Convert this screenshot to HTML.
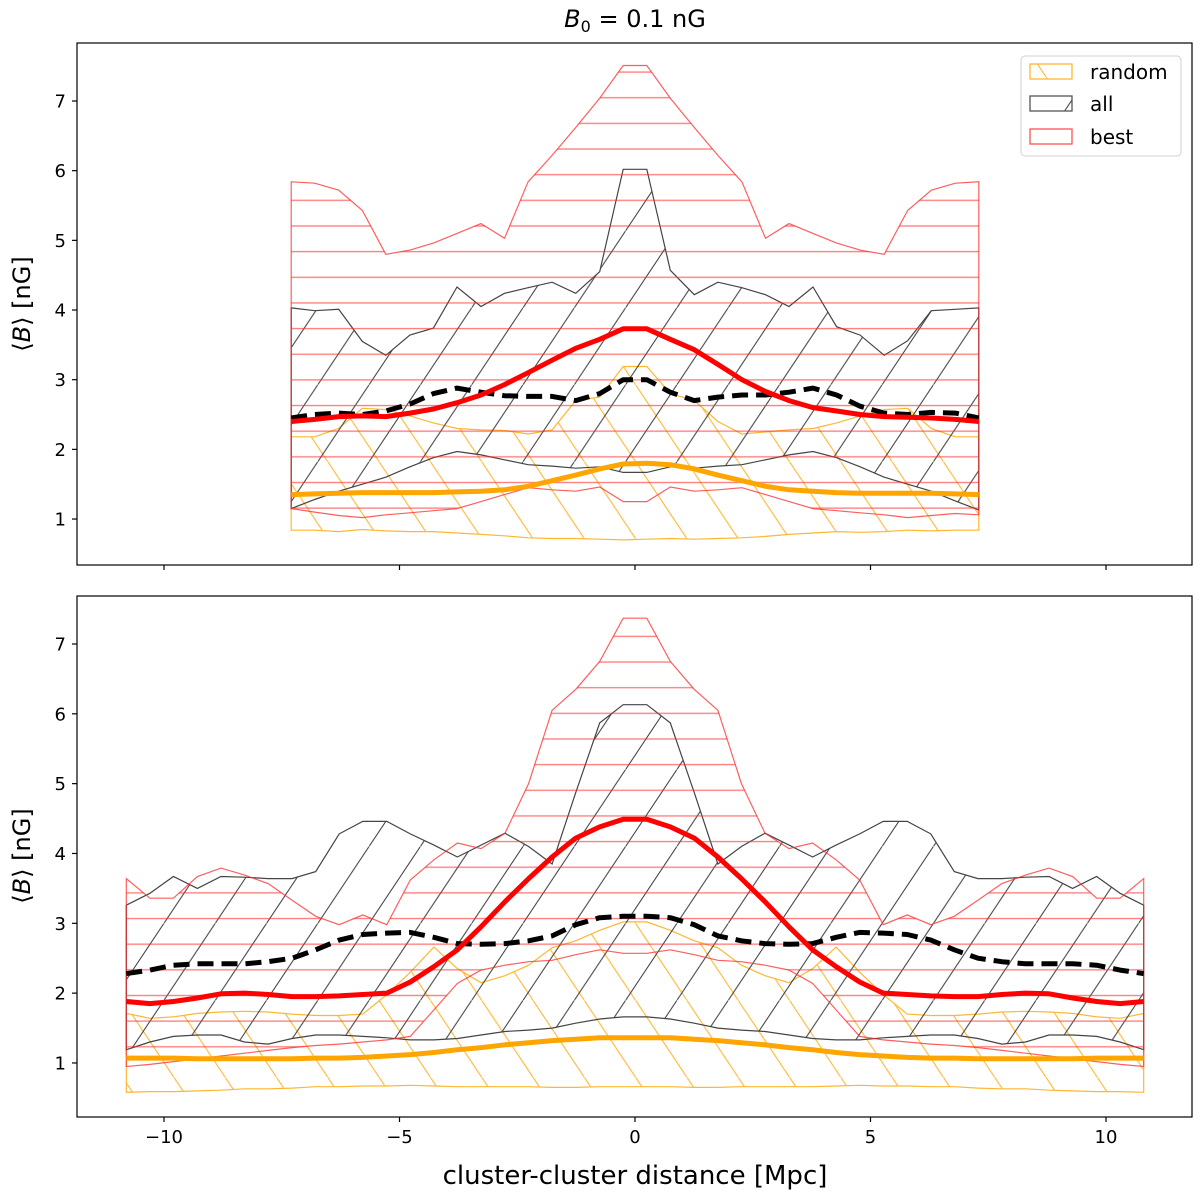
<!DOCTYPE html>
<html><head><meta charset="utf-8"><style>
html,body{margin:0;padding:0;background:#fff;}
svg{display:block;font-family:"DejaVu Sans","Liberation Sans",sans-serif;}
</style></head><body>
<svg id="chart" width="1200" height="1198" viewBox="0 0 1200 1198" xmlns="http://www.w3.org/2000/svg">
<defs>
<pattern id="hRed" patternUnits="userSpaceOnUse" x="0" y="0" width="20" height="25.65">
<line x1="0" y1="20.8" x2="20" y2="20.8" stroke="rgba(255,40,40,0.6)" stroke-width="1.3"/>
</pattern>
<pattern id="hBlk" patternUnits="userSpaceOnUse" x="10" y="0" width="51.3" height="76.95">
<line x1="-2" y1="79.95" x2="53.3" y2="-3" stroke="#333" stroke-width="1"/>
</pattern>
<pattern id="hOr" patternUnits="userSpaceOnUse" x="20" y="0" width="51.3" height="76.95">
<line x1="-2" y1="-3" x2="53.3" y2="79.95" stroke="#ffb733" stroke-width="1.1"/>
</pattern>
</defs>
<rect x="0" y="0" width="1200" height="1198" fill="#fff"/>
<text x="635" y="27" font-size="24" text-anchor="middle" fill="#000"><tspan font-style="italic">B</tspan><tspan font-size="16" dy="5">0</tspan><tspan dy="-5"> = 0.1 nG</tspan></text>
<g id="top"></g>
<g id="bot"></g>
<rect x="77" y="43" width="1115" height="522" fill="none" stroke="#000" stroke-width="1.2"/>
<rect x="77" y="596" width="1115" height="521" fill="none" stroke="#000" stroke-width="1.2"/>
<text transform="translate(30,304) rotate(-90)" font-size="24" text-anchor="middle">⟨<tspan font-style="italic">B</tspan>⟩ [nG]</text>
<text transform="translate(30,856) rotate(-90)" font-size="24" text-anchor="middle">⟨<tspan font-style="italic">B</tspan>⟩ [nG]</text>
<text x="635" y="1184" font-size="26" text-anchor="middle">cluster-cluster distance [Mpc]</text>
<g>
<rect x="1021" y="56" width="160" height="100" rx="4" fill="#fff" fill-opacity="0.85" stroke="#d0d0d0"/>
<g>
<rect x="1030" y="64" width="42" height="15" fill="url(#hOr)" stroke="#ffb733" stroke-width="1.3"/>
<text x="1090" y="79" font-size="20">random</text></g>
<g>
<rect x="1030" y="96" width="42" height="15" fill="url(#hBlk)" stroke="#555" stroke-width="1.3"/>
<text x="1090" y="111" font-size="20">all</text></g>
<g>
<rect x="1030" y="129" width="42" height="15" fill="none" stroke="#ff5050" stroke-width="1.3"/>
<text x="1090" y="144" font-size="20">best</text></g>
</g>
</svg>
<script>
const topX=[-7.30,-6.80,-6.29,-5.79,-5.29,-4.78,-4.28,-3.78,-3.27,-2.77,-2.27,-1.76,-1.26,-0.75,-0.25,0.25,0.75,1.26,1.76,2.27,2.77,3.27,3.78,4.28,4.78,5.29,5.79,6.29,6.80,7.30];
const topRedHi=[5.84,5.82,5.72,5.43,4.80,4.86,4.96,5.10,5.24,5.03,5.84,6.22,6.62,7.04,7.51,7.51,7.04,6.62,6.22,5.84,5.03,5.24,5.10,4.96,4.86,4.80,5.43,5.72,5.82,5.84];
const topRedLo=[1.15,1.10,1.05,1.02,1.06,1.09,1.12,1.15,1.25,1.35,1.45,1.42,1.40,1.46,1.25,1.25,1.46,1.40,1.42,1.45,1.35,1.25,1.15,1.12,1.09,1.06,1.02,1.05,1.08,1.06];
const topBlkHi=[4.03,3.99,4.01,3.55,3.35,3.64,3.74,4.33,4.05,4.24,4.32,4.40,4.24,4.55,6.02,6.02,4.57,4.22,4.40,4.32,4.22,4.05,4.33,3.76,3.64,3.35,3.56,3.99,4.01,4.03];
const topBlkLo=[1.15,1.28,1.40,1.50,1.60,1.75,1.88,1.97,1.92,1.85,1.78,1.76,1.73,1.75,1.67,1.67,1.75,1.73,1.76,1.78,1.85,1.92,1.97,1.88,1.75,1.60,1.50,1.40,1.26,1.13];
const topOrHi=[2.18,2.18,2.30,2.59,2.57,2.48,2.38,2.30,2.28,2.27,2.22,2.28,2.70,2.75,3.19,3.19,2.80,2.70,2.40,2.22,2.25,2.28,2.30,2.38,2.48,2.57,2.59,2.30,2.18,2.18];
const topOrLo=[0.84,0.84,0.82,0.85,0.83,0.82,0.82,0.80,0.78,0.76,0.73,0.72,0.72,0.71,0.70,0.71,0.72,0.71,0.72,0.73,0.75,0.78,0.80,0.82,0.81,0.82,0.84,0.83,0.84,0.84];
const topRedMean=[2.40,2.43,2.47,2.48,2.47,2.52,2.58,2.67,2.78,2.93,3.10,3.28,3.45,3.58,3.73,3.73,3.58,3.43,3.22,3.00,2.83,2.70,2.60,2.55,2.50,2.47,2.46,2.45,2.43,2.40];
const topBlkMean=[2.45,2.50,2.52,2.50,2.55,2.65,2.80,2.88,2.82,2.77,2.76,2.76,2.70,2.80,3.00,3.00,2.82,2.70,2.75,2.78,2.78,2.82,2.88,2.78,2.62,2.52,2.50,2.53,2.52,2.45];
const topOrMean=[1.35,1.36,1.37,1.38,1.38,1.38,1.38,1.39,1.40,1.42,1.47,1.55,1.63,1.72,1.79,1.80,1.78,1.72,1.63,1.55,1.47,1.42,1.40,1.38,1.37,1.37,1.37,1.37,1.36,1.35];

const botX=[-10.80,-10.30,-9.80,-9.29,-8.79,-8.29,-7.79,-7.28,-6.78,-6.28,-5.78,-5.27,-4.77,-4.27,-3.77,-3.27,-2.76,-2.26,-1.76,-1.26,-0.75,-0.25,0.25,0.75,1.26,1.76,2.26,2.76,3.27,3.77,4.27,4.77,5.27,5.78,6.28,6.78,7.28,7.79,8.29,8.79,9.29,9.80,10.30,10.80];
const botRedHi=[3.64,3.36,3.36,3.67,3.79,3.69,3.57,3.33,3.10,2.98,3.12,2.98,3.62,3.91,4.15,4.07,4.29,5.00,6.05,6.35,6.75,7.37,7.37,6.75,6.35,6.05,5.00,4.29,4.07,4.15,3.91,3.62,2.98,3.12,2.98,3.10,3.33,3.57,3.69,3.79,3.67,3.36,3.36,3.64];
const botRedLo=[0.95,0.98,1.02,1.06,1.10,1.14,1.18,1.22,1.25,1.27,1.30,1.33,1.38,1.76,2.14,2.33,2.40,2.45,2.47,2.55,2.62,2.57,2.57,2.62,2.55,2.47,2.45,2.40,2.33,2.14,1.76,1.38,1.33,1.30,1.27,1.25,1.22,1.18,1.14,1.10,1.06,1.02,0.98,0.95];
const botBlkHi=[3.26,3.43,3.67,3.50,3.67,3.66,3.64,3.64,3.74,4.28,4.46,4.46,4.28,4.12,3.95,4.12,4.29,4.10,3.85,4.87,5.87,6.13,6.13,5.87,4.87,3.85,4.10,4.29,4.12,3.95,4.12,4.28,4.46,4.46,4.28,3.74,3.64,3.64,3.66,3.67,3.50,3.67,3.43,3.26];
const botBlkLo=[1.19,1.30,1.38,1.40,1.40,1.30,1.27,1.35,1.40,1.40,1.38,1.36,1.33,1.33,1.35,1.40,1.45,1.47,1.50,1.57,1.63,1.66,1.66,1.63,1.57,1.50,1.47,1.45,1.40,1.35,1.33,1.33,1.36,1.38,1.40,1.40,1.35,1.27,1.30,1.40,1.40,1.38,1.30,1.19];
const botOrHi=[1.71,1.64,1.66,1.71,1.73,1.74,1.73,1.70,1.68,1.68,1.70,1.98,2.30,2.66,2.35,2.15,2.25,2.40,2.65,2.75,2.90,3.02,3.02,2.90,2.75,2.65,2.40,2.25,2.15,2.35,2.66,2.30,1.98,1.70,1.68,1.68,1.70,1.73,1.74,1.73,1.71,1.66,1.64,1.71];
const botOrLo=[0.58,0.59,0.59,0.60,0.61,0.63,0.63,0.64,0.66,0.66,0.67,0.67,0.68,0.67,0.66,0.66,0.66,0.66,0.65,0.65,0.66,0.66,0.66,0.66,0.65,0.65,0.66,0.66,0.66,0.66,0.67,0.68,0.67,0.67,0.66,0.66,0.64,0.63,0.63,0.61,0.60,0.59,0.59,0.58];
const botRedMean=[1.88,1.85,1.88,1.93,1.99,2.00,1.98,1.95,1.95,1.96,1.98,2.00,2.16,2.38,2.62,2.95,3.31,3.64,3.95,4.22,4.38,4.49,4.49,4.38,4.22,3.95,3.64,3.31,2.95,2.62,2.38,2.16,2.00,1.98,1.96,1.95,1.95,1.98,2.00,1.99,1.93,1.88,1.85,1.88];
const botBlkMean=[2.28,2.33,2.40,2.42,2.42,2.42,2.45,2.50,2.62,2.76,2.84,2.86,2.87,2.80,2.71,2.70,2.71,2.75,2.82,2.98,3.08,3.10,3.10,3.08,2.98,2.82,2.75,2.71,2.70,2.71,2.80,2.87,2.86,2.84,2.76,2.62,2.50,2.45,2.42,2.42,2.42,2.40,2.33,2.28];
const botOrMean=[1.07,1.07,1.07,1.06,1.06,1.06,1.06,1.06,1.07,1.07,1.08,1.10,1.12,1.15,1.19,1.22,1.26,1.29,1.32,1.34,1.36,1.36,1.36,1.36,1.34,1.32,1.29,1.26,1.22,1.19,1.15,1.12,1.10,1.08,1.07,1.07,1.06,1.06,1.06,1.06,1.06,1.07,1.07,1.07];

const xTicks=[-10,-5,0,5,10];
const xTickLabels=["\u221210","\u22125","0","5","10"];
const yTicks=[1,2,3,4,5,6,7];

const NS="http://www.w3.org/2000/svg";
function X(x){return 635+47.1*x;}
function Ytop(v){return 588.7-69.67*v;}
function Ybot(v){return 1132.8-69.83*v;}
function mk(tag,attrs,parent){const e=document.createElementNS(NS,tag);for(const k in attrs)e.setAttribute(k,attrs[k]);parent.appendChild(e);return e;}
function pts(xs,ys,Y){return xs.map((x,i)=>X(x).toFixed(1)+","+Y(ys[i]).toFixed(1));}

function band(g,xs,hi,lo,Y,fill,stroke,name){
  const p=pts(xs,hi,Y).concat(pts(xs,lo,Y).reverse());
  const e=mk('polygon',{points:p.join(' '),fill:fill,stroke:stroke,'stroke-width':1.2,'stroke-linejoin':'miter'},g);
  
  
}
function line(g,xs,ys,Y,color,dash,name){
  const e=mk('polyline',{points:pts(xs,ys,Y).join(' '),fill:'none',stroke:color,'stroke-width':5,'stroke-linejoin':'round'},g);
  if(dash)e.setAttribute('stroke-dasharray',dash);
  
  
}
function axes(g,Y,y0,y1,labels,prefix){
  yTicks.forEach(v=>{
    const y=Y(v);
    const t=mk('line',{x1:72,x2:77,y1:y,y2:y,stroke:'#000','stroke-width':1.2},g);
    
    
    const l=mk('text',{x:66,y:y+6.5,'font-size':18,'text-anchor':'end'},g);
    l.textContent=String(v);
    
    
  });
  xTicks.forEach((v,i)=>{
    const x=X(v);
    const t=mk('line',{x1:x,x2:x,y1:y1,y2:y1+5,stroke:'#000','stroke-width':1.2},g);
    
    
    if(labels){
      const l=mk('text',{x:x,y:y1+26,'font-size':18,'text-anchor':'middle'},g);
      l.textContent=xTickLabels[i];
      
      
    }
  });
}

const gt=document.getElementById('top');
band(gt,topX,topOrHi,topOrLo,Ytop,'url(#hOr)','#ffb733','random-band');
band(gt,topX,topBlkHi,topBlkLo,Ytop,'url(#hBlk)','#444','all-band');
band(gt,topX,topRedHi,topRedLo,Ytop,'url(#hRed)','rgba(255,40,40,0.75)','best-band');
line(gt,topX,topOrMean,Ytop,'#ffa500',null,'random-mean-line');
line(gt,topX,topBlkMean,Ytop,'#000','16,8','all-mean-line');
line(gt,topX,topRedMean,Ytop,'#ff0000',null,'best-mean-line');
axes(gt,Ytop,43,565,false,'top');

const gb=document.getElementById('bot');
band(gb,botX,botOrHi,botOrLo,Ybot,'url(#hOr)','#ffb733','random-band');
band(gb,botX,botBlkHi,botBlkLo,Ybot,'url(#hBlk)','#444','all-band');
band(gb,botX,botRedHi,botRedLo,Ybot,'url(#hRed)','rgba(255,40,40,0.75)','best-band');
line(gb,botX,botOrMean,Ybot,'#ffa500',null,'random-mean-line');
line(gb,botX,botBlkMean,Ybot,'#000','16,8','all-mean-line');
line(gb,botX,botRedMean,Ybot,'#ff0000',null,'best-mean-line');
axes(gb,Ybot,596,1117,true,'bottom');
</script>
</body></html>
